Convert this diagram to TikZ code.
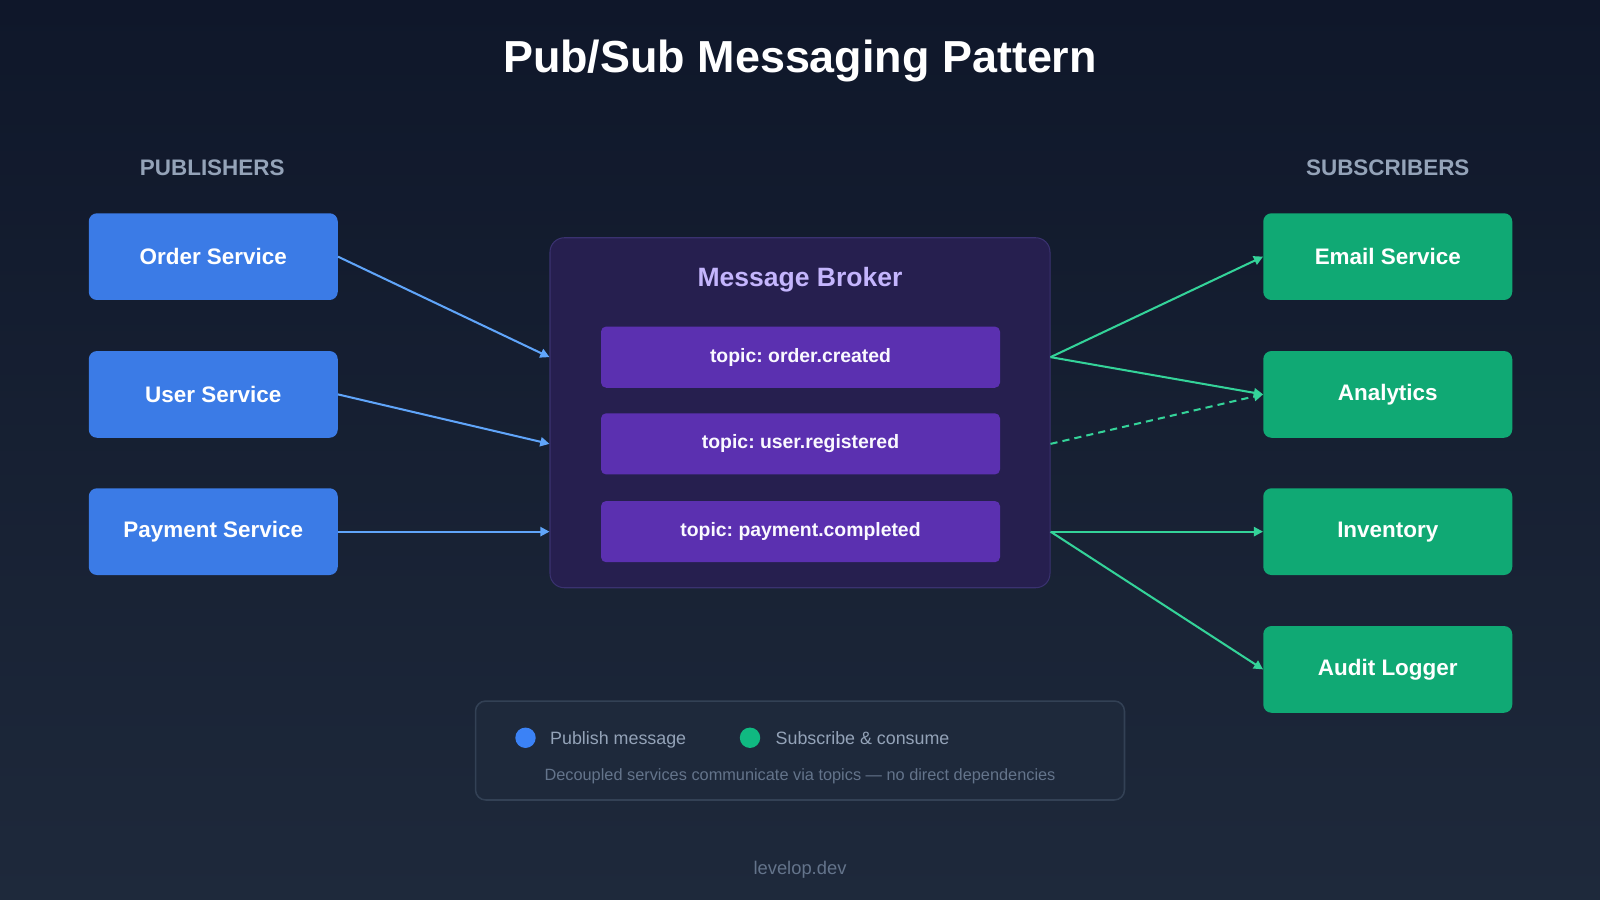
\documentclass[tikz,border=0pt]{standalone}
\usepackage{fontspec}
\setmainfont{Liberation Sans}
\usetikzlibrary{arrows.meta}
\frenchspacing
\definecolor{bgA}{HTML}{0F172A}
\definecolor{bgB}{HTML}{1E293B}
\definecolor{pub}{HTML}{3B7BE6}
\definecolor{sub}{HTML}{10A974}
\definecolor{brk}{HTML}{261F4F}
\definecolor{brkb}{HTML}{3A3270}
\definecolor{topic}{HTML}{5B30B0}
\definecolor{lav}{HTML}{C4B5FD}
\definecolor{gr}{HTML}{94A3B8}
\definecolor{dg}{HTML}{64748B}
\definecolor{parr}{HTML}{60A5FA}
\definecolor{sarr}{HTML}{34D399}
\definecolor{legb}{HTML}{334155}
\definecolor{cblue}{HTML}{3B82F6}
\definecolor{cgreen}{HTML}{10B981}
\begin{document}
\begin{tikzpicture}[x=1pt,y=-1pt,
 box/.style={rounded corners=8pt,minimum width=244pt,minimum height=85pt,text=white,font=\fontsize{22}{26}\selectfont\bfseries,inner sep=0},
 pb/.style={box,fill=pub}, sb/.style={box,fill=sub},
 tp/.style={rounded corners=5pt,fill=topic,minimum width=391pt,minimum height=60pt,text=white!92!lav,font=\fontsize{19}{23}\selectfont\bfseries,inner sep=0,text depth=0pt,text height=10pt},
 pa/.style={draw=parr,line width=2pt,-{Triangle[length=9pt,width=9pt]}},
 sa/.style={draw=sarr,line width=2pt,-{Triangle[length=9pt,width=9pt]}},
 hd/.style={text=gr,font=\fontsize{22}{26}\selectfont\bfseries},
 lt/.style={anchor=base west,text=gr,font=\fontsize{17.5}{22}\selectfont,inner sep=0}]
\useasboundingbox (0,0) rectangle (1568,882);
\shade[top color=bgA,bottom color=bgB] (0,0) rectangle (1568,882);
\node[text=white,font=\fontsize{44}{50}\selectfont\bfseries] (title) at (784,60) {Pub/Sub Messaging Pattern};
\node[hd] (ph) at (208,164) {PUBLISHERS};
\node[hd] (sh) at (1360,164) {SUBSCRIBERS};
\node[pb] (order) at (209,251.5) {Order Service};
\node[pb] (user) at (209,386.5) {User Service};
\node[pb] (pay) at (209,521) {Payment Service};
\node[rounded corners=14pt,fill=brk,draw=brkb,line width=1pt,minimum width=490pt,minimum height=343pt] (broker) at (784,404.5) {};
\node[text=lav,font=\fontsize{26}{30}\selectfont\bfseries] (bt) at (784,274) {Message Broker};
\node[tp] (t1) at (784.5,350) {topic: order.created};
\node[tp] (t2) at (784.5,435) {topic: user.registered};
\node[tp] (t3) at (784.5,521) {topic: payment.completed};
\node[sb] (email) at (1360,251.5) {Email Service};
\node[sb] (ana) at (1360,386.5) {Analytics};
\node[sb] (inv) at (1360,521) {Inventory};
\node[sb] (audit) at (1360,656) {Audit Logger};
\coordinate (bw1) at (broker.west |- t1); \coordinate (bw2) at (broker.west |- t2); \coordinate (bw3) at (broker.west |- t3);
\coordinate (be1) at (broker.east |- t1); \coordinate (be2) at (broker.east |- t2); \coordinate (be3) at (broker.east |- t3);
\draw[pa] (order.east) -- (bw1);
\draw[pa] (user.east) -- (bw2);
\draw[pa] (pay.east) -- (bw3);
\draw[sa] (be1) -- (email.west);
\draw[sa] (be1) -- (ana.west);
\draw[sa,dash pattern=on 7pt off 5pt] (be2) -- (ana.west);
\draw[sa] (be3) -- (inv.west);
\draw[sa] (be3) -- (audit.west);
\node[rounded corners=10pt,fill=bgB,draw=legb,line width=1.5pt,minimum width=636pt,minimum height=97pt] (leg) at (784,735.5) {};
\node[circle,fill=cblue,minimum size=20pt,inner sep=0] (c1) at (515,723) {};
\node[circle,fill=cgreen,minimum size=20pt,inner sep=0] (c2) at (735,723) {};
\node[lt] (l1) at (539,729.5) {Publish message};
\node[lt] (l2) at (760,729.5) {Subscribe \& consume};
\node[text=dg,font=\fontsize{16}{20}\selectfont] (cap) at (784,761) {Decoupled services communicate via topics — no direct dependencies};
\node[text=dg,font=\fontsize{18}{22}\selectfont] (foot) at (784,852) {levelop.dev};
\end{tikzpicture}
\end{document}
